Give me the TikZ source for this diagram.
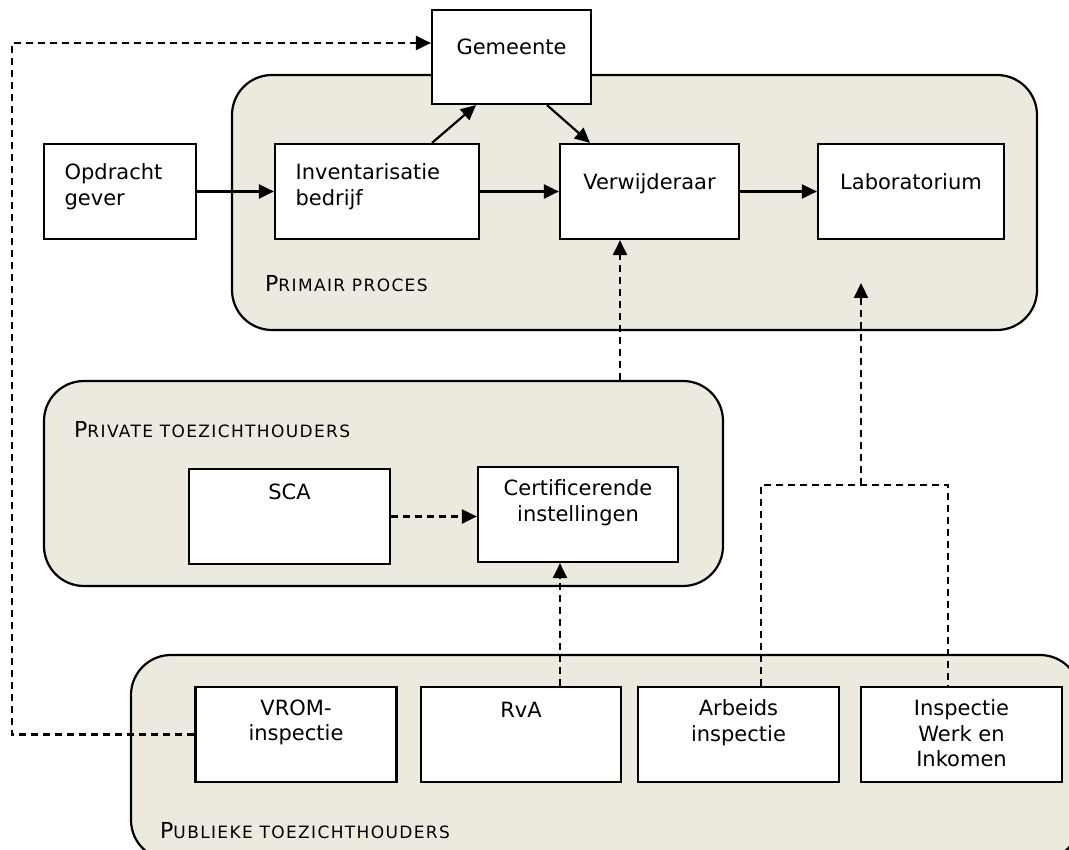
\documentclass[tikz,border=0pt]{standalone}
\usepackage{fontspec}
\setmainfont{DejaVu Sans}
\usetikzlibrary{arrows.meta}
\definecolor{groepkleur}{RGB}{236,233,223}
\newcommand{\kopje}[2]{{\fontsize{22}{22}\selectfont #1}{\fontsize{17}{17}\selectfont\addfontfeatures{LetterSpace=8}#2}}

\begin{document}
\begin{tikzpicture}[x=1pt,y=-1pt,
	groep/.style={draw, line width=2.2pt, fill=groepkleur, rounded corners=40pt, inner sep=0pt},
	blok/.style={draw, line width=2.2pt, fill=white, inner sep=0pt, minimum height=95pt},
	bloktekst/.style={anchor=north, inner sep=0pt, align=center, font=\fontsize{21}{25.5}\selectfont, execute at begin node=\strut},
	kop/.style={anchor=base west, inner sep=0pt},
	pijl/.style={line width=2.2pt, -{Triangle[length=15pt,width=14pt]}},
	stippel/.style={line width=2.2pt, dash pattern=on 7pt off 5pt},
	stippelpijl/.style={stippel, -{Triangle[length=15pt,width=14pt]}}]
	\useasboundingbox (0,0) rectangle (1069,850);
	\clip (0,0) rectangle (1069,850);
	% groepen
	\node[groep, minimum width=805pt, minimum height=255pt] (prim) at (634.5,202.5) {};
	\node[groep, minimum width=679pt, minimum height=205pt] (priv) at (383.5,483.5) {};
	\node[groep, minimum width=949pt, minimum height=205pt] (publ) at (605.5,757.5) {};
	\node[kop] (primkop) at (265,292) {\kopje{P}{RIMAIR PROCES}};
	\node[kop] (privkop) at (74,437) {\kopje{P}{RIVATE TOEZICHTHOUDERS}};
	\node[kop] (publkop) at (160,838) {\kopje{P}{UBLIEKE TOEZICHTHOUDERS}};
	% blokken
	\node[blok, minimum width=159pt, minimum height=94pt] (gem) at (511.5,57) {};
	\node[blok, minimum width=152pt] (opd) at (120,191.5) {};
	\node[blok, minimum width=204pt] (inv) at (377,191.5) {};
	\node[blok, minimum width=179pt] (ver) at (649.5,191.5) {};
	\node[blok, minimum width=186pt] (lab) at (911,191.5) {};
	\node[blok, minimum width=201pt] (sca) at (289.5,516.5) {};
	\node[blok, minimum width=200pt] (cert) at (578,514.5) {};
	\node[blok, minimum width=201pt] (vrom) at (296,734.5) {};
	\node[blok, minimum width=200pt] (rva) at (521,734.5) {};
	\node[blok, minimum width=201pt] (arb) at (738.5,734.5) {};
	\node[blok, minimum width=201pt] (insp) at (961.5,734.5) {};
	\node[bloktekst, yshift=-27.5pt] at (gem.north) {Gemeente};
	\node[bloktekst, anchor=north west, align=left, xshift=21.5pt, yshift=-20.5pt] at (opd.north west) {Opdracht\\gever};
	\node[bloktekst, anchor=north west, align=left, xshift=21.5pt, yshift=-20.5pt] at (inv.north west) {Inventarisatie\\bedrijf};
	\node[bloktekst, yshift=-28.5pt] at (ver.north) {Verwijderaar};
	\node[bloktekst, yshift=-28.5pt] at (lab.north) {Laboratorium};
	\node[bloktekst, yshift=-13.5pt] at (sca.north) {SCA};
	\node[bloktekst, yshift=-13.5pt] at (cert.north) {Certificerende\\instellingen};
	\node[bloktekst, yshift=-13.5pt] at (vrom.north) {VROM-\\inspectie};
	\node[bloktekst, yshift=-13.5pt] at (rva.north) {RvA};
	\node[bloktekst, yshift=-13.5pt] at (arb.north) {Arbeids\\inspectie};
	\node[bloktekst, yshift=-13.5pt] at (insp.north) {Inspectie\\Werk en\\Inkomen};
	% verbindingen
	\coordinate (links) at (12,0);
	\coordinate (splits) at (861,485);
	\coordinate (labpunt) at (861,283);
	\draw[pijl] (opd.east) -- (inv.west);
	\draw[pijl] (inv.east) -- (ver.west);
	\draw[pijl] (ver.east) -- (lab.west);
	\draw[pijl] ([xshift=55pt]inv.north) -- ([xshift=-35.5pt]gem.south);
	\draw[pijl] ([xshift=35.5pt]gem.south) -- ([xshift=-59.5pt]ver.north);
	\draw[stippelpijl] (vrom.west) -- (vrom.west -| links) |- ([yshift=14pt]gem.west);
	\draw[stippelpijl] ([xshift=-29.5pt]ver.south |- priv.north) -- ([xshift=-29.5pt]ver.south);
	\draw[stippelpijl] (sca.east) -- (sca.east -| cert.west);
	\draw[stippelpijl] ([xshift=39pt]rva.north) -- ([xshift=39pt]rva.north |- cert.south);
	\draw[stippel] ([xshift=22.5pt]arb.north) |- (splits) -| ([xshift=-13.5pt]insp.north);
	\draw[stippelpijl] (splits) -- (labpunt);
\end{tikzpicture}
\end{document}
